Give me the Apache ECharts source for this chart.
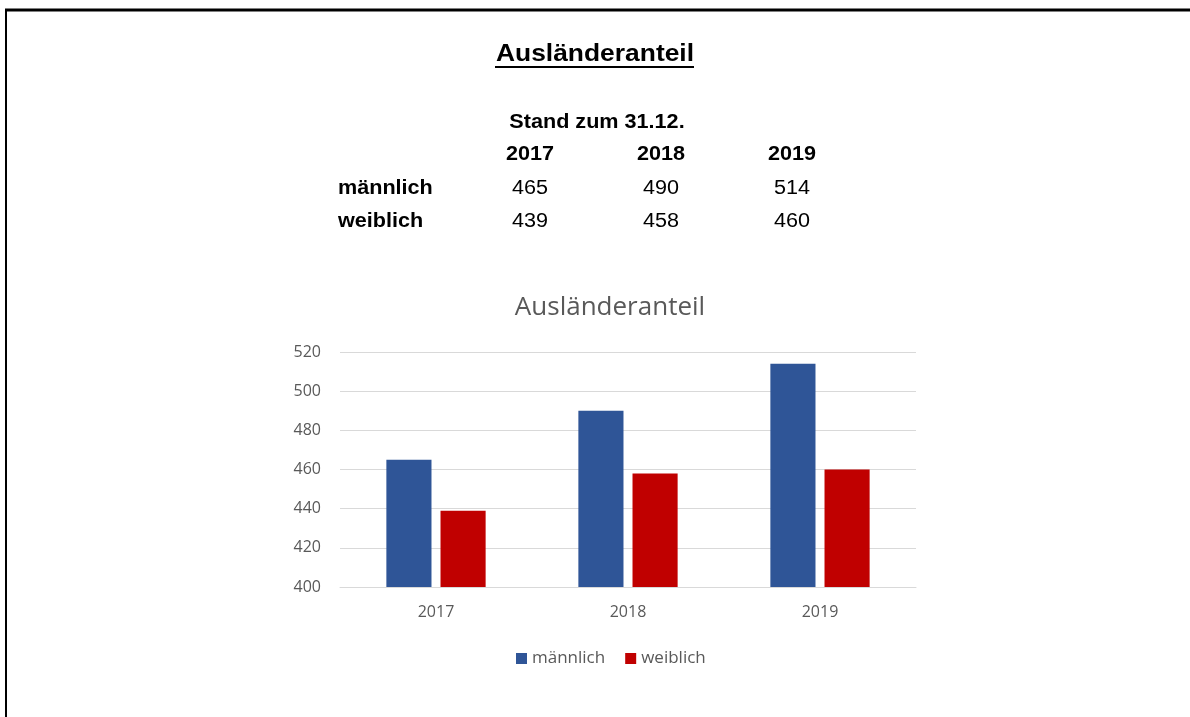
<!DOCTYPE html>
<html>
<head>
<meta charset="utf-8">
<script src="https://cdn.jsdelivr.net/npm/echarts@6/dist/echarts.min.js"></script>
<style>
	html, body { margin: 0; padding: 0; background: #fff; }
	#container { width: 1190px; height: 717px; }
</style>
</head>
<body>
<div id="container"></div>
<script>
(function(){

	// data
	var years = [ "2017", "2018", "2019" ];
	var seriesNames = [ "männlich", "weiblich" ];
	var maleValues = [ 465, 490, 514 ];
	var femaleValues = [ 439, 458, 460 ];
	var yTicks = [ 400, 420, 440, 460, 480, 500, 520 ];

	var dom = window.document.getElementById( "container" );
	var myChart = echarts.init( dom );

	var black = "#000";
	var grey = "#595959";
	var tableFont = "Liberation Sans, Arial, sans-serif";
	var chartFont = "Open Sans, Noto Sans, sans-serif";

	// 표 텍스트 (chart 위)
	var colX = [ 530, 661, 792 ];
	var tx = function( x, y, text, bold, align ){
		return {
			type : "text", x : x, y : y, scaleX : 1.08,
			style : { text : text, font : ( bold ? "bold " : "" ) + "20px " + tableFont, fill : black, align : align || "center", verticalAlign : "middle" }
		};
	};

	var graphics = [
		// frame lines (top + left)
		{ type : "line", shape : { x1 : 5, y1 : 10, x2 : 1190, y2 : 10 }, style : { stroke : black, lineWidth : 3 } },
		{ type : "line", shape : { x1 : 6, y1 : 9, x2 : 6, y2 : 717 }, style : { stroke : black, lineWidth : 2 } },
		// heading
		{ type : "text", x : 595, y : 54, scaleX : 1.1, style : { text : "Ausländeranteil", font : "bold 24px " + tableFont, fill : black, align : "center", verticalAlign : "middle" } },
		{ type : "line", shape : { x1 : 495, y1 : 67, x2 : 694, y2 : 67 }, style : { stroke : black, lineWidth : 2 } },
		tx( 597, 122, "Stand zum 31.12.", true )
	];

	var i = 0, iLen = years.length;
	for(;i<iLen;++i){
		graphics.push( tx( colX[ i ], 154, years[ i ], true ) );
		graphics.push( tx( colX[ i ], 188, String( maleValues[ i ] ), false ) );
		graphics.push( tx( colX[ i ], 221, String( femaleValues[ i ] ), false ) );
	};
	graphics.push( tx( 338, 188, seriesNames[ 0 ], true, "left" ) );
	graphics.push( tx( 338, 221, seriesNames[ 1 ], true, "left" ) );

	var option = {
		animation : false,
		title : {
			text : "Ausländeranteil",
			left : 605,
			top : 290,
			textAlign : "center",
			textStyle : { fontFamily : chartFont, fontSize : 26, fontWeight : "normal", color : grey }
		},
		grid : {
			left : 340,
			right : 274,
			top : 352,
			bottom : 130
		},
		legend : {
			data : seriesNames,
			left : 511,
			top : 645,
			itemWidth : 11,
			itemHeight : 11,
			itemGap : 20,
			icon : "rect",
			textStyle : { fontFamily : chartFont, fontSize : 17, color : grey, padding : [ 0, 0, 0, 0 ] }
		},
		xAxis : {
			type : "category",
			data : years,
			axisLine : { lineStyle : { color : "#d9d9d9" } },
			axisTick : { show : false },
			axisLabel : { fontFamily : chartFont, fontSize : 16, color : grey, margin : 17 }
		},
		yAxis : {
			type : "value",
			min : yTicks[ 0 ],
			max : yTicks[ yTicks.length - 1 ],
			interval : 20,
			axisLine : { show : false },
			axisTick : { show : false },
			axisLabel : { fontFamily : chartFont, fontSize : 16, color : grey, margin : 19 },
			splitLine : { lineStyle : { color : "#d9d9d9" } }
		},
		series : [
			{
				name : seriesNames[ 0 ],
				type : "bar",
				data : maleValues,
				barWidth : "23.5%",
				barGap : "20%",
				itemStyle : { color : "#2F5597" }
			},
			{
				name : seriesNames[ 1 ],
				type : "bar",
				data : femaleValues,
				barWidth : "23.5%",
				barGap : "20%",
				itemStyle : { color : "#C00000" }
			}
		],
		graphic : graphics
	};

	if( option && typeof option === "object" ) myChart.setOption( option, true );

})();
</script>
</body>
</html>
